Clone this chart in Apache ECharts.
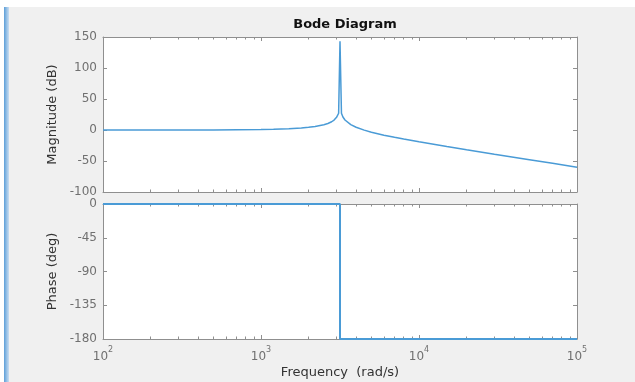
<!DOCTYPE html>
<html>
<head>
<meta charset="utf-8">
<script src="https://cdn.jsdelivr.net/npm/echarts@6/dist/echarts.min.js"></script>
<style>
  html, body { margin: 0; padding: 0; background: #f0f0f0; }
  #chart { width: 635px; height: 382px; }
</style>
</head>
<body>
<div id="chart"></div>
<script>
// Frequency response of an undamped 2nd-order system (rad/s)
const freqMag = [100, 200, 500, 1000, 1200, 1500, 1800, 2000, 2200, 2500, 2650, 2800, 2900, 3000, 3050, 3100,
  3162.3, 3230, 3300, 3400, 3500, 3700, 4000, 4500, 5000, 6000, 7000, 8000, 10000, 15000, 20000, 30000,
  50000, 70000, 100000];
const magnitudeDb = [0, 0, 0.2, 0.9, 1.4, 2.2, 3.4, 4.4, 5.8, 8.5, 10.5, 13.3, 16.0, 20.0, 23.1, 27.0,
  143, 27.0, 21.0, 16.1, 13.0, 8.7, 4.4, -0.2, -3.5, -8.3, -11.8, -14.6, -19.1, -26.6, -31.8, -39.0,
  -47.9, -53.8, -60];

const freqPhase = [100, 3162.3, 3162.3, 100000];
const phaseDeg = [0, 0, -180, -180];

// Axis ticks
const magTicks = [-100, -50, 0, 50, 100, 150];
const phaseTicks = [-180, -135, -90, -45, 0];
const freqRange = [100, 100000];

const FONT = 'DejaVu Sans';
const LINE = '#4a9bd6';
const AXIS = '#8f8f8f';
const TICKTXT = '#707070';

const pair = (xs, ys) => xs.map((x, i) => [x, ys[i]]);

// log-decade minor tick positions (in log10 space) for the tick-only overlay axes
const decadeLo = Math.log10(freqRange[0]), decadeHi = Math.log10(freqRange[1]);
const minorTickPos = [];
for (let d = decadeLo; d < decadeHi; d++) {
  for (let k = 2; k <= 9; k++) minorTickPos.push(d + Math.log10(k));
}

const grids = [
  { left: 103, top: 37, width: 474, height: 155 },
  { left: 103, top: 204, width: 474, height: 135 }
];

function freqAxes(g, withLabels) {
  const base = {
    gridIndex: g, type: 'log', logBase: 10, min: freqRange[0], max: freqRange[1], splitNumber: 3,
    splitLine: { show: false },
    axisLine: { show: true, onZero: false, lineStyle: { color: AXIS, width: 1 } },
    axisTick: { show: true, inside: true, length: 4, lineStyle: { color: AXIS } }
  };
  const minor = {
    gridIndex: g, type: 'value', min: decadeLo, max: decadeHi,
    splitLine: { show: false }, axisLine: { show: false, onZero: false }, axisLabel: { show: false },
    axisTick: { show: true, inside: true, length: 2.5, customValues: minorTickPos, lineStyle: { color: AXIS } }
  };
  const bottom = Object.assign({}, base, {
    position: 'bottom',
    axisLabel: withLabels ? {
      show: true, margin: 7, color: TICKTXT, fontFamily: FONT,
      formatter: v => '{b|10}{s|' + Math.round(Math.log10(v)) + '}',
      rich: {
        b: { fontSize: 12, fontFamily: FONT, color: TICKTXT, lineHeight: 17, verticalAlign: 'bottom' },
        s: { fontSize: 8, fontFamily: FONT, color: TICKTXT, lineHeight: 10, verticalAlign: 'top' }
      }
    } : { show: false }
  });
  if (withLabels) {
    Object.assign(bottom, {
      name: 'Frequency  (rad/s)', nameLocation: 'middle', nameGap: 27, nameMoveOverlap: false,
      nameTextStyle: { fontFamily: FONT, fontSize: 13, color: '#333' }
    });
  }
  const top = Object.assign({}, base, { position: 'top', axisLabel: { show: false } });
  return [bottom, top,
    Object.assign({}, minor, { position: 'bottom' }),
    Object.assign({}, minor, { position: 'top' })];
}

function valueAxes(g, ticks, name) {
  const common = {
    gridIndex: g, type: 'value', min: ticks[0], max: ticks[ticks.length - 1],
    interval: ticks[1] - ticks[0],
    splitLine: { show: false },
    axisLine: { show: true, onZero: false, lineStyle: { color: AXIS, width: 1 } },
    axisTick: { show: true, inside: true, length: 4, lineStyle: { color: AXIS } }
  };
  return [
    Object.assign({}, common, {
      position: 'left',
      axisLabel: { show: true, margin: 6, color: TICKTXT, fontFamily: FONT, fontSize: 12 },
      name: name, nameLocation: 'middle', nameGap: 44, nameMoveOverlap: false,
      nameTextStyle: { fontFamily: FONT, fontSize: 13, color: '#333' }
    }),
    Object.assign({}, common, { position: 'right', axisLabel: { show: false } })
  ];
}

const chart = echarts.init(document.getElementById('chart'), null, { renderer: 'canvas' });
chart.setOption({
  backgroundColor: '#f0f0f0',
  animation: false,
  title: {
    text: 'Bode Diagram', left: 340, top: 13, textAlign: 'center',
    textStyle: { fontFamily: FONT, fontSize: 13, fontWeight: 'bold', color: '#111' }
  },
  graphic: [
    { type: 'rect', left: 0, top: 0, shape: { width: 635, height: 7 }, style: { fill: '#ffffff' }, silent: true },
    { type: 'rect', left: 0, top: 0, shape: { width: 4, height: 382 }, style: { fill: '#ffffff' }, silent: true },
    {
      type: 'rect', left: 4, top: 7, shape: { width: 5, height: 375 }, silent: true,
      style: {
        fill: new echarts.graphic.LinearGradient(0, 0, 1, 0, [
          { offset: 0, color: '#5d9fd8' }, { offset: 1, color: '#c9def2' }
        ])
      }
    }
  ],
  grid: grids.map(g => Object.assign({ show: true, backgroundColor: '#ffffff', borderWidth: 0, containLabel: false }, g)),
  xAxis: [].concat(freqAxes(0, false), freqAxes(1, true)),
  yAxis: [].concat(valueAxes(0, magTicks, 'Magnitude (dB)'), valueAxes(1, phaseTicks, 'Phase (deg)')),
  series: [
    {
      type: 'line', xAxisIndex: 0, yAxisIndex: 0, data: pair(freqMag, magnitudeDb),
      showSymbol: false, smooth: false, lineStyle: { color: LINE, width: 1.5 }, silent: true
    },
    {
      type: 'line', xAxisIndex: 4, yAxisIndex: 2, data: pair(freqPhase, phaseDeg),
      showSymbol: false, smooth: false, lineStyle: { color: LINE, width: 2 }, silent: true
    }
  ]
});
</script>
</body>
</html>
